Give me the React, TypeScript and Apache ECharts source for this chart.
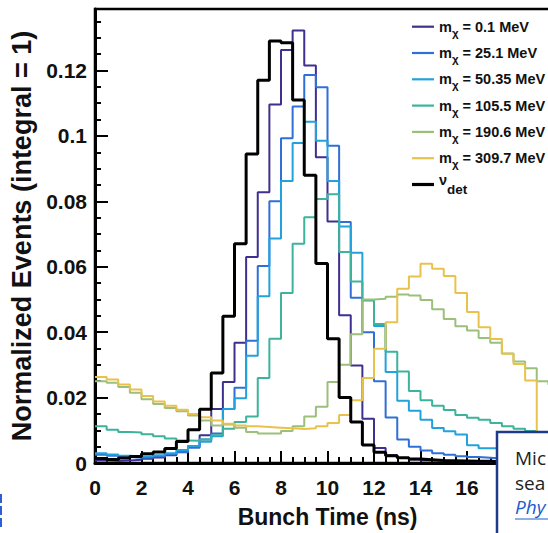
import React, { useEffect, useRef } from "react";
import * as echarts from "echarts";

// Histogram bins: 0.5 ns wide, starting at 0 ns
const BIN_START = 0;
const BIN_WIDTH = 0.5;

const seriesNames = [
  "m0.1",
  "m25.1",
  "m50.35",
  "m105.5",
  "m190.6",
  "m309.7",
  "nudet",
];

const massLabels = ["0.1", "25.1", "50.35", "105.5", "190.6", "309.7"];

const mChi0p1 = [
  0.0008, 0.0006, 0.0008, 0.001, 0.0013, 0.0017, 0.0024, 0.0033, 0.0052, 0.0085,
  0.0165, 0.0248, 0.0368, 0.063, 0.0828, 0.1096, 0.1263, 0.1322, 0.1215, 0.0935,
  0.0738, 0.0452, 0.0298, 0.0135, 0.0046, 0.0024, 0.0015, 0.0011, 0.0008, 0.0007,
  0.0006, 0.0005, 0.0004, 0.0004, 0.0003, 0.0003, 0.0003, 0.0002, 0.0002, 0.0002,
];

const mChi25p1 = [
  0.0025, 0.0022, 0.0018, 0.0016, 0.0017, 0.002, 0.0026, 0.0034, 0.0047, 0.0072,
  0.009, 0.0165, 0.023, 0.0374, 0.0602, 0.08, 0.0993, 0.109, 0.1186, 0.1149,
  0.097, 0.0737, 0.0505, 0.04, 0.025, 0.0139, 0.0072, 0.005, 0.0038, 0.003,
  0.0025, 0.0021, 0.0018, 0.0016, 0.0014, 0.0012, 0.0011, 0.001, 0.0009, 0.0008,
];

const mChi50p35 = [
  0.003, 0.0026, 0.0022, 0.002, 0.0021, 0.0024, 0.003, 0.004, 0.0052, 0.0065,
  0.0082, 0.0165, 0.0198, 0.0328, 0.051, 0.0686, 0.0862, 0.0978, 0.1043, 0.0985,
  0.0862, 0.0723, 0.0643, 0.0497, 0.0419, 0.0278, 0.019, 0.016, 0.0132, 0.0107,
  0.0097, 0.0087, 0.0054, 0.0045, 0.0045, 0.004, 0.0038, 0.0036, 0.0034, 0.0032,
];

const mChi105p5 = [
  0.0112, 0.0102, 0.0095, 0.0093, 0.0088, 0.0082, 0.0075, 0.0069, 0.0068, 0.0072,
  0.0085, 0.0105, 0.0125, 0.0142, 0.026, 0.038, 0.052, 0.067, 0.0751, 0.0807,
  0.0822, 0.0645, 0.0555, 0.0498, 0.0425, 0.034, 0.028, 0.022, 0.0192, 0.0175,
  0.0162, 0.0147, 0.0138, 0.0132, 0.0122, 0.0112, 0.0105, 0.0098, 0.0095, 0.0092,
];

const mChi190p6 = [
  0.025, 0.0245, 0.0232, 0.0215, 0.0195, 0.018, 0.0168, 0.0158, 0.0145, 0.013,
  0.0115, 0.0118, 0.0108, 0.0095, 0.009, 0.009, 0.0098, 0.0112, 0.0142, 0.0172,
  0.0248, 0.03, 0.0394, 0.05, 0.0502, 0.0508, 0.0515, 0.0512, 0.0498, 0.047,
  0.044, 0.0418, 0.0405, 0.0382, 0.0368, 0.0335, 0.031, 0.029, 0.025, 0.024,
];

const mChi309p7 = [
  0.0263, 0.0255, 0.024, 0.0225, 0.0205, 0.0188, 0.0175, 0.0163, 0.015, 0.014,
  0.013, 0.012, 0.0115, 0.0112, 0.011, 0.0108, 0.0106, 0.0104, 0.0106, 0.0112,
  0.0122, 0.0147, 0.0192, 0.026, 0.0349, 0.043, 0.0533, 0.057, 0.0609, 0.0594,
  0.0572, 0.052, 0.0462, 0.0415, 0.0379, 0.0334, 0.0303, 0.0252, 0, 0,
];

const nuDet = [
  0.0014, 0.0011, 0.0015, 0.002, 0.0028, 0.0034, 0.0044, 0.0066, 0.0102, 0.0164,
  0.0275, 0.0449, 0.067, 0.0945, 0.117, 0.129, 0.1285, 0.111, 0.088, 0.061,
  0.038, 0.02, 0.0125, 0.0055, 0.0033, 0.0022, 0.0016, 0.0012, 0.001, 0.0008,
  0.0007, 0.0006, 0.0005, 0.0005, 0.0004, 0.0004, 0.0003, 0.0003, 0.0003, 0.0003,
];

const seriesValues = [mChi0p1, mChi25p1, mChi50p35, mChi105p5, mChi190p6, mChi309p7, nuDet];

const seriesColors = ["#3f2f8f", "#2f6fd6", "#22a2dc", "#3db39c", "#9cc07c", "#e9c24c", "#000000"];

const xTicks = { min: 0, max: 20, interval: 2, lastShownLabel: 16 };
const yTicks = { min: 0, max: 0.1388, interval: 0.02 };

function toSteps(vals: number[]) {
  const pts: number[][] = vals.map((v, i) => [BIN_START + i * BIN_WIDTH, v]);
  pts.push([BIN_START + vals.length * BIN_WIDTH, vals[vals.length - 1]]);
  return pts;
}

export default function App() {
  const ref = useRef<HTMLDivElement>(null);
  useEffect(() => {
    document.documentElement.style.overflow = "hidden";
    document.body.style.overflow = "hidden";
    const chart = echarts.init(ref.current!, undefined, { renderer: "svg" });
    const font = "'Liberation Sans', Arial, Helvetica, sans-serif";

    const series = seriesValues.map((vals, i) => ({
      name: seriesNames[i],
      type: "line",
      step: "end",
      data: toSteps(vals),
      symbol: "none",
      showSymbol: false,
      color: seriesColors[i],
      lineStyle: { color: seriesColors[i], width: i === 6 ? 3 : 2 },
      z: 2 + i,
      silent: true,
      clip: true,
    }));

    // Legend drawn as graphic elements for exact placement
    const legendTop = 26.7;
    const legendStep = 26.3;
    const legendGraphics: any[] = [];
    seriesNames.forEach((name, i) => {
      const yc = legendTop + legendStep * i;
      legendGraphics.push({
        type: "line",
        z: 50,
        shape: { x1: 412, y1: yc, x2: 434, y2: yc },
        style: { stroke: seriesColors[i], lineWidth: i === 6 ? 3.2 : 2.2 },
      });
      const text =
        i < 6
          ? `{m|m}{s|χ}{m| = ${massLabels[i]} MeV}`
          : `{nu|ν}{det|det}{sp| }`;
      legendGraphics.push({
        type: "text",
        z: 50,
        x: 439,
        y: yc,
        style: {
          text,
          verticalAlign: "middle",
          align: "left",
          fill: "#111",
          fontFamily: font,
          fontWeight: "bold",
          fontSize: 14.5,
          rich: {
            m: { fontSize: 14.5, fontWeight: "bold", lineHeight: 24, verticalAlign: "middle", fill: "#111", fontFamily: font },
            s: { fontSize: 11.5, fontWeight: "bold", lineHeight: 11, verticalAlign: "bottom", fill: "#111", fontFamily: font },
            nu: { fontSize: 14.5, fontWeight: "bold", lineHeight: 16, verticalAlign: "top", fill: "#111", fontFamily: font },
            det: { fontSize: 13.5, fontWeight: "bold", lineHeight: 13, verticalAlign: "bottom", fill: "#111", fontFamily: font },
            sp: { fontSize: 14, lineHeight: 24, verticalAlign: "middle", fill: "#111", fontFamily: font },
          },
        },
      });
    });

    chart.setOption({
      animation: false,
      textStyle: { fontFamily: font },
      grid: {
        left: 95,
        top: 9,
        width: 465,
        height: 459.7,
        show: true,
        borderColor: "#000",
        borderWidth: 2.5,
        backgroundColor: "transparent",
      },
      xAxis: {
        type: "value",
        min: xTicks.min,
        max: xTicks.max,
        interval: xTicks.interval,
        name: "Bunch Time (ns)",
        nameLocation: "middle",
        nameGap: 42,
        nameTextStyle: { fontSize: 23, fontWeight: "bold", color: "#111", fontFamily: font },
        axisLine: { show: true, onZero: false, lineStyle: { color: "#000", width: 3 } },
        axisTick: { show: true, inside: true, length: 12, lineStyle: { color: "#000", width: 2 } },
        minorTick: { show: true, splitNumber: 4, length: 6, lineStyle: { color: "#000", width: 2 } },
        splitLine: { show: false },
        axisLabel: {
          fontSize: 21,
          fontWeight: "bold",
          color: "#111",
          margin: 14,
          fontFamily: font,
          // labels beyond 16 are hidden behind the overlay box in the reference
          formatter: (v: number) => (v <= xTicks.lastShownLabel ? String(v) : ""),
        },
      },
      yAxis: {
        type: "value",
        min: yTicks.min,
        max: yTicks.max,
        interval: yTicks.interval,
        name: "Normalized Events (integral = 1)",
        nameLocation: "middle",
        nameGap: 59,
        nameTextStyle: { fontSize: 27, fontWeight: "bold", color: "#111", fontFamily: font },
        axisLine: { show: true, onZero: false, lineStyle: { color: "#000", width: 3 } },
        axisTick: { show: true, inside: true, length: 13, lineStyle: { color: "#000", width: 2 } },
        minorTick: { show: true, splitNumber: 4, length: 6, lineStyle: { color: "#000", width: 2 } },
        splitLine: { show: false },
        axisLabel: { fontSize: 21, fontWeight: "bold", color: "#111", margin: 8, showMaxLabel: false, fontFamily: font },
      },
      series,
      graphic: [
        ...legendGraphics,
        {
          type: "rect",
          z: 100,
          shape: { x: 497, y: 432, width: 120, height: 120 },
          style: { fill: "#fff", stroke: "#1e3a8a", lineWidth: 2.5 },
        },
        {
          type: "text",
          z: 101,
          x: 515,
          y: 458,
          style: { text: "Mic", fill: "#222", fontSize: 19, fontFamily: "'Open Sans', sans-serif", verticalAlign: "middle" },
        },
        {
          type: "text",
          z: 101,
          x: 515,
          y: 483,
          style: { text: "sea", fill: "#222", fontSize: 19, fontFamily: "'Open Sans', sans-serif", verticalAlign: "middle" },
        },
        {
          type: "text",
          z: 101,
          x: 515,
          y: 507,
          style: { text: "Phy", fill: "#1a5dd0", fontSize: 19, fontStyle: "italic", fontFamily: "'Open Sans', sans-serif", verticalAlign: "middle" },
        },
        {
          type: "line",
          z: 101,
          shape: { x1: 515, y1: 519, x2: 548, y2: 519 },
          style: { stroke: "#1a5dd0", lineWidth: 1.2 },
        },
        {
          type: "line",
          z: 101,
          shape: { x1: 1, y1: 494, x2: 1, y2: 528 },
          style: { stroke: "#2c5fd6", lineWidth: 2, lineDash: [9, 3] },
        },
      ],
    });
    return () => chart.dispose();
  }, []);
  return (
    <div
      ref={ref}
      style={{ position: "fixed", left: 0, top: 0, width: 600, height: 533, background: "#fff" }}
    />
  );
}
